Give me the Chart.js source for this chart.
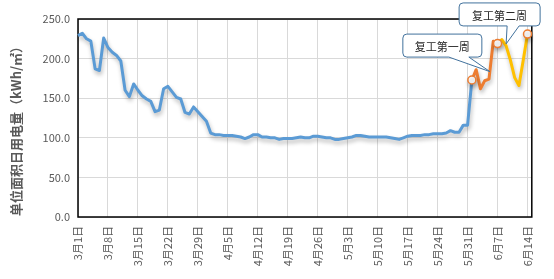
<!DOCTYPE html>
<html>
<head>
<meta charset="utf-8">
<script src="https://cdn.jsdelivr.net/npm/chart.js@4"></script>
<style>
  html, body { margin: 0; padding: 0; background: #fff; }
  #wrap { width: 554px; height: 279px; }
</style>
</head>
<body>
<div id="wrap"><canvas id="chartLine"></canvas></div>
<script>
// months shown on the axis, with the number of days used from each
const months = [["3", 31], ["4", 30], ["5", 31], ["6", 15]];
const tickLabels = ["3月1日", "3月8日", "3月15日", "3月22日", "3月29日", "4月5日", "4月12日", "4月19日",
  "4月26日", "5月3日", "5月10日", "5月17日", "5月24日", "5月31日", "6月7日", "6月14日"];

// 3月1日 - 6月1日
const blueValues = [229, 232, 225, 222, 187, 185, 226, 214, 208, 204,
  197, 160, 152, 168, 160, 153, 149, 146, 133, 135,
  162, 165, 158, 151, 149, 132, 130, 139, 133, 127,
  121, 106, 104, 104, 103, 103, 103, 102, 101, 99,
  101, 104, 104, 101, 101, 100, 100, 98, 99, 99,
  99, 100, 101, 100, 100, 102, 102, 101, 100, 100,
  98, 98, 99, 100, 101, 103, 103, 102, 101, 101,
  101, 101, 101, 100, 99, 98, 100, 102, 103, 103,
  103, 104, 104, 105, 105, 105, 106, 109, 107, 107,
  116, 116, 173];
// 复工第一周 6月1日 - 6月7日
const week1Values = [173, 186, 162, 172, 174, 222, 219];
// 复工第二周 6月7日 - 6月14日
const week2Values = [219, 224, 216, 198, 176, 166, 198, 231];

const categories = [];
months.forEach(([m, n]) => {
  for (let d = 1; d <= n; d++) categories.push(m + "月" + d + "日");
});

const week1Start = blueValues.length - 1;
const week2Start = week1Start + week1Values.length - 1;

function placeSeries(values, start) {
  const arr = new Array(categories.length).fill(null);
  values.forEach((v, i) => { arr[start + i] = v; });
  return arr;
}

const blueData = placeSeries(blueValues, 0);
const week1Data = placeSeries(week1Values, week1Start);
const week2Data = placeSeries(week2Values, week2Start);

const fontCJK = "'Noto Sans CJK SC', 'Noto Sans', sans-serif";

function drawCallout(ctx, text, bx, by, bw, bh, b1, b2, tip) {
  const r = 4;
  ctx.save();
  ctx.beginPath();
  ctx.moveTo(bx + r, by);
  ctx.lineTo(bx + bw - r, by);
  ctx.quadraticCurveTo(bx + bw, by, bx + bw, by + r);
  ctx.lineTo(bx + bw, by + bh - r);
  ctx.quadraticCurveTo(bx + bw, by + bh, bx + bw - r, by + bh);
  ctx.lineTo(bx + b2, by + bh);
  ctx.lineTo(tip.x, tip.y);
  ctx.lineTo(bx + b1, by + bh);
  ctx.lineTo(bx + r, by + bh);
  ctx.quadraticCurveTo(bx, by + bh, bx, by + bh - r);
  ctx.lineTo(bx, by + r);
  ctx.quadraticCurveTo(bx, by, bx + r, by);
  ctx.closePath();
  ctx.fillStyle = "#ffffff";
  ctx.fill();
  ctx.lineWidth = 1;
  ctx.strokeStyle = "#41719C";
  ctx.stroke();
  ctx.fillStyle = "#262626";
  ctx.font = "11px " + fontCJK;
  ctx.textAlign = "center";
  ctx.textBaseline = "middle";
  ctx.fillText(text, bx + bw / 2, by + bh / 2 + 1);
  ctx.restore();
}

const decorPlugin = {
  id: "decor",
  beforeDatasetsDraw(chart) {
    const { ctx, chartArea: a } = chart;
    ctx.save();
    ctx.strokeStyle = "#000000";
    ctx.lineWidth = 1.5;
    ctx.strokeRect(a.left, a.top, a.right - a.left, a.bottom - a.top);
    ctx.restore();
    ctx.save();
    ctx.shadowColor = "rgba(0,0,0,0.28)";
    ctx.shadowBlur = 4;
    ctx.shadowOffsetX = 1;
    ctx.shadowOffsetY = 3;
  },
  afterDatasetsDraw(chart) {
    chart.ctx.restore();
  },
  afterDraw(chart) {
    const ctx = chart.ctx;
    // y axis title
    ctx.save();
    ctx.translate(16, 128);
    ctx.rotate(-Math.PI / 2);
    ctx.fillStyle = "#595959";
    ctx.font = "bold 13px " + fontCJK;
    ctx.textAlign = "center";
    ctx.textBaseline = "middle";
    ctx.fillText("单位面积日用电量（kWh/㎡）", 0, 0);
    ctx.restore();

    const p1 = chart.getDatasetMeta(1).data;
    const a = p1[week1Start + 4], b = p1[week1Start + 5];
    const tip1 = { x: a.x + (b.x - a.x) * 0.2, y: a.y + (b.y - a.y) * 0.2 };
    drawCallout(ctx, "复工第一周", tip1.x - 87, tip1.y - 37.5, 79, 23, 46, 66, tip1);

    const p2 = chart.getDatasetMeta(2).data;
    const c = p2[week2Start + 2];
    const tip2 = { x: c.x, y: c.y - 2 };
    drawCallout(ctx, "复工第二周", tip2.x - 47, tip2.y - 41, 81, 23, 48, 60, tip2);
  }
};

const markerRadius = (idxs) => (ctx) => idxs.includes(ctx.dataIndex) ? 4 : 0;

new Chart(document.getElementById("chartLine").getContext("2d"), {
  type: "line",
  data: {
    labels: categories,
    datasets: [
      {
        data: blueData,
        borderColor: "#5B9BD5",
        borderWidth: 3,
        pointRadius: 0,
        tension: 0,
        borderJoinStyle: "round",
        order: 3
      },
      {
        data: week1Data,
        borderColor: "#ED7D31",
        borderWidth: 3,
        pointRadius: markerRadius([week1Start, week2Start]),
        pointBackgroundColor: "#ffffff",
        pointBorderColor: "#ED7D31",
        pointBorderWidth: 1.5,
        tension: 0,
        borderJoinStyle: "round",
        order: 1
      },
      {
        data: week2Data,
        borderColor: "#FFC000",
        borderWidth: 3,
        pointRadius: markerRadius([week2Start + week2Values.length - 1]),
        pointBackgroundColor: "#ffffff",
        pointBorderColor: "#ED7D31",
        pointBorderWidth: 1.5,
        tension: 0,
        borderJoinStyle: "round",
        order: 2
      }
    ]
  },
  options: {
    responsive: true,
    maintainAspectRatio: false,
    animation: false,
    layout: { padding: { top: 19, right: 15, left: 0, bottom: 0 } },
    plugins: {
      legend: { display: false },
      tooltip: { enabled: false }
    },
    scales: {
      x: {
        afterFit: (s) => { s.height = 62; },
        border: { display: false },
        grid: {
          drawTicks: false,
          color: (ctx) => ctx.index % 7 === 0 ? "#D9D9D9" : "rgba(0,0,0,0)"
        },
        ticks: {
          autoSkip: false,
          maxRotation: 90,
          minRotation: 90,
          padding: 9,
          color: "#595959",
          font: { size: 11, family: fontCJK },
          callback: function (v, i) {
            const lab = this.getLabelForValue(v);
            return tickLabels.includes(lab) ? lab : "";
          }
        }
      },
      y: {
        min: 0,
        max: 250,
        afterFit: (s) => { s.width = 78; },
        border: { display: false },
        grid: { drawTicks: false, color: "#D9D9D9" },
        ticks: {
          stepSize: 50,
          padding: 8,
          color: "#595959",
          font: { size: 11, family: fontCJK },
          callback: (v) => v.toFixed(1)
        }
      }
    }
  },
  plugins: [decorPlugin]
});
</script>
</body>
</html>
